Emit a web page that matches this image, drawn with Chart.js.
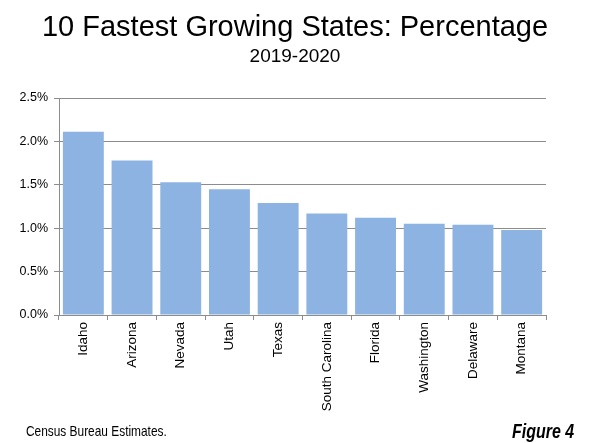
<!DOCTYPE html>
<html>
<head>
<meta charset="utf-8">
<script src="https://cdn.jsdelivr.net/npm/chart.js@4"></script>
<style>
  html, body { margin: 0; padding: 0; background: #fff; }
  #wrap { position: relative; width: 590px; height: 443px; font-family: "Liberation Sans", Arial, sans-serif; color: #000; }
  #title { position: absolute; left: 0; width: 590px; top: 12px; text-align: center; font-size: 29px; line-height: 29px; }
  #sub { position: absolute; left: 0; width: 590px; top: 46px; text-align: center; font-size: 19px; line-height: 19px; }
  #source { position: absolute; left: 26px; top: 424px; font-size: 14.5px; line-height: 15px; white-space: nowrap;
            transform: scaleX(0.82); transform-origin: 0 0; }
  #fig { position: absolute; left: 512px; top: 420px; font-size: 21px; line-height: 21px; white-space: nowrap;
         font-weight: bold; font-style: italic; transform: scaleX(0.76); transform-origin: 0 0; }
  canvas { position: absolute; left: 0; top: 0; }
</style>
</head>
<body>
<div id="wrap">
  <canvas id="growthChart" width="590" height="443"></canvas>
  <div id="title">10 Fastest Growing States: Percentage</div>
  <div id="sub">2019-2020</div>
  <div id="source">Census Bureau Estimates.</div>
  <div id="fig">Figure 4</div>
</div>
<script>
// ─── Data ─────────────────────────────────────────────────────────────────
const states = ['Idaho', 'Arizona', 'Nevada', 'Utah', 'Texas',
                'South Carolina', 'Florida', 'Washington', 'Delaware', 'Montana'];
const growthPct = [2.11, 1.78, 1.53, 1.45, 1.29, 1.17, 1.12, 1.05, 1.04, 0.98];
const yTicks = [0, 0.5, 1.0, 1.5, 2.0, 2.5];

const axisGrey = '#8c8c8c';

new Chart(document.getElementById('growthChart'), {
    type: 'bar',
    data: {
        labels: states,
        datasets: [{
            label: 'Growth',
            data: growthPct,
            backgroundColor: '#8db3e2',
            borderWidth: 0,
            categoryPercentage: 1.0,
            barPercentage: 0.84
        }]
    },
    options: {
        responsive: false,
        animation: false,
        devicePixelRatio: 1,
        layout: { padding: { top: 98, right: 44, left: 0, bottom: 0 } },
        plugins: { legend: { display: false }, tooltip: { enabled: false } },
        scales: {
            y: {
                min: yTicks[0],
                max: yTicks[yTicks.length - 1],
                afterBuildTicks: (axis) => { axis.ticks = yTicks.map(v => ({ value: v })); },
                afterFit: (axis) => { axis.width = 59; },
                ticks: {
                    color: '#000',
                    font: { family: 'Liberation Sans', size: 12.5 },
                    padding: 6,
                    callback: (v) => v.toFixed(1) + '%'
                },
                grid: { color: axisGrey, lineWidth: 1, tickLength: 5 },
                border: { color: axisGrey }
            },
            x: {
                afterFit: (axis) => { axis.height = 128; },
                ticks: {
                    color: '#000',
                    font: { family: 'Liberation Sans', size: 13.5 },
                    maxRotation: 90,
                    minRotation: 90,
                    autoSkip: false,
                    padding: 2
                },
                grid: { drawOnChartArea: false, color: axisGrey, tickLength: 5 },
                border: { color: axisGrey }
            }
        }
    }
});
</script>
</body>
</html>
